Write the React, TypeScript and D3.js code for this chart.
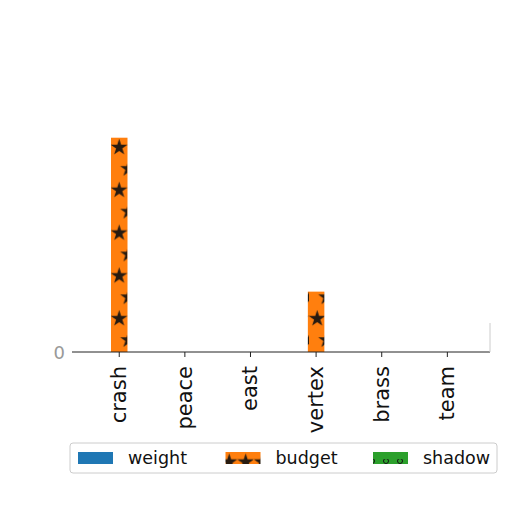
import { useMemo } from "react";
import * as d3 from "d3";

const categories = ["crash", "peace", "east", "vertex", "brass", "team"];
const seriesNames = ["weight", "budget", "shadow"];
const weightValues = [0, 0, 0, 0, 0, 0];
const budgetValues = [71, 0, 0, 20, 0, 0];
const shadowValues = [0, 0, 0, 0, 0, 0];
const yTickValues = [0];

const COLORS = ["#1f77b4", "#ff7f0e", "#2ca02c"];

export default function App() {
  const width = 512;
  const height = 512;
  const margin = { top: 127, right: 22, bottom: 160, left: 72 };

  const plot = {
    left: margin.left,
    right: width - margin.right,
    top: margin.top,
    bottom: height - margin.bottom,
  };

  const xScale = useMemo(
    () =>
      d3
        .scaleLinear()
        .domain([-0.72, categories.length - 0.35])
        .range([plot.left, plot.right]),
    [plot.left, plot.right],
  );

  const yScale = useMemo(() => {
    const all = [...weightValues, ...budgetValues, ...shadowValues];
    const max = d3.max(all) ?? 1;
    return d3
      .scaleLinear()
      .domain([0, max * 1.05])
      .range([plot.bottom, plot.top]);
  }, [plot.bottom, plot.top]);

  const barWidth = 16.5;
  const datasets = [weightValues, budgetValues, shadowValues];

  const starPath = d3.symbol(d3.symbolStar, 85)() ?? "";

  return (
    <svg
      width={width}
      height={height}
      viewBox={`0 0 ${width} ${height}`}
      style={{ position: "absolute", left: 0, top: 0, fontFamily: "DejaVu Sans" }}
    >
      <defs>
        <pattern
          id="starHatch"
          patternUnits="userSpaceOnUse"
          width={16.5}
          height={42.8}
          x={xScale(0) - barWidth / 2}
          y={plot.bottom}
        >
          <rect width={16.5} height={42.8} fill={COLORS[1]} />
          <path d={starPath} transform="translate(8.2,9.5)" fill="#111" opacity={0.9} />
          <path d={starPath} transform="translate(17.5,30.9)" fill="#111" opacity={0.9} />
        </pattern>
        <pattern
          id="circleHatch"
          patternUnits="userSpaceOnUse"
          width={14}
          height={14}
          x={6}
          y={2}
        >
          <rect width={14} height={14} fill={COLORS[2]} />
          <circle cx={7} cy={2} r={2.5} fill="none" stroke="#111" strokeWidth={1} />
        </pattern>
      </defs>

      {/* Bars */}
      {datasets.map((values, si) => (
        <g key={si}>
          {values.map((v, i) =>
            v > 0 ? (
              <rect
                key={i}
                x={xScale(i) + (si - 1) * barWidth - barWidth / 2}
                y={yScale(v)}
                width={barWidth}
                height={yScale(0) - yScale(v)}
                fill={si === 1 ? "url(#starHatch)" : si === 2 ? "url(#circleHatch)" : COLORS[si]}
              />
            ) : null,
          )}
        </g>
      ))}

      {/* Axis */}
      <line
        x1={plot.left}
        x2={plot.right}
        y1={plot.bottom}
        y2={plot.bottom}
        stroke="#222"
        strokeWidth={1}
      />
      <line
        x1={plot.right}
        x2={plot.right}
        y1={plot.bottom - 29}
        y2={plot.bottom}
        stroke="#ccc"
        strokeWidth={1}
      />
      {categories.map((c, i) => (
        <g key={c} transform={`translate(${xScale(i)},${plot.bottom})`}>
          <line y1={0} y2={5} stroke="#222" />
          <text
            transform="translate(0,14) rotate(-90)"
            textAnchor="end"
            dominantBaseline="central"
            fontSize={21}
            fill="#111"
          >
            {c}
          </text>
        </g>
      ))}
      {yTickValues.map((t) => (
        <text
          key={t}
          x={plot.left - 7}
          y={yScale(t)}
          textAnchor="end"
          dominantBaseline="central"
          fontSize={18}
          fill="#999"
        >
          {t}
        </text>
      ))}

      {/* Legend */}
      <g transform="translate(70,443)">
        <rect
          width={427}
          height={30}
          rx={3}
          fill="white"
          stroke="#ccc"
          strokeWidth={1}
        />
        {seriesNames.map((name, i) => {
          const x = 8 + i * 147.5;
          return (
            <g key={name} transform={`translate(${x},0)`}>
              <rect
                x={0}
                y={9}
                width={35}
                height={12}
                fill={i === 1 ? "url(#starHatch)" : i === 2 ? "url(#circleHatch)" : COLORS[i]}
              />
              <text x={50} y={15} dominantBaseline="central" fontSize={17.5} fill="#111">
                {name}
              </text>
            </g>
          );
        })}
      </g>
    </svg>
  );
}
